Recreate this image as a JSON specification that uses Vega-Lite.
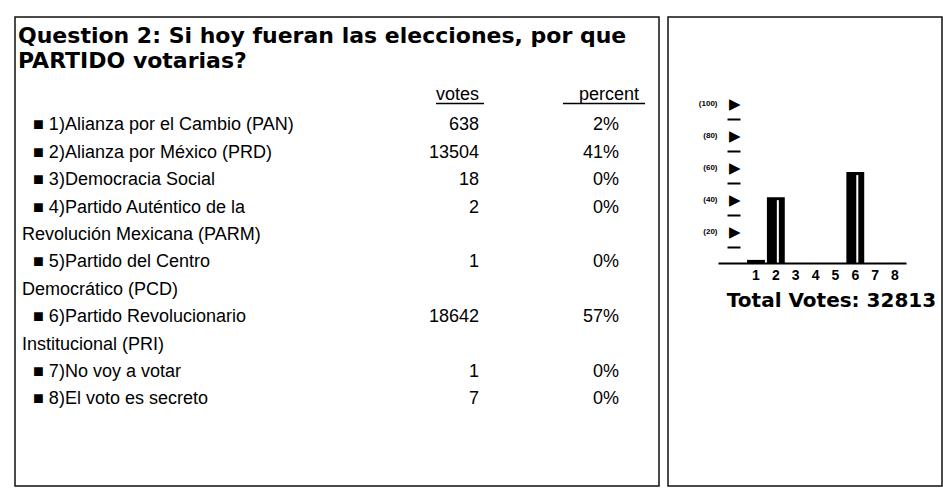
{
  "$schema": "https://vega.github.io/schema/vega-lite/v6.json",
  "background": "white",
  "padding": {"left": 14, "top": 16, "right": 4, "bottom": 7},
  "spacing": 7,
  "config": {"view": {"stroke": "#111", "strokeWidth": 1.5}, "font": "Liberation Sans"},
  "data": {"values": [
    {"item": 1, "label": "■ 1)Alianza por el Cambio (PAN)", "cont": "", "votes": 638, "share": 0.0194},
    {"item": 2, "label": "■ 2)Alianza por México (PRD)", "cont": "", "votes": 13504, "share": 0.4115},
    {"item": 3, "label": "■ 3)Democracia Social", "cont": "", "votes": 18, "share": 0.0005},
    {"item": 4, "label": "■ 4)Partido Auténtico de la", "cont": "Revolución Mexicana (PARM)", "votes": 2, "share": 0.0001},
    {"item": 5, "label": "■ 5)Partido del Centro", "cont": "Democrático (PCD)", "votes": 1, "share": 0.00003},
    {"item": 6, "label": "■ 6)Partido Revolucionario", "cont": "Institucional (PRI)", "votes": 18642, "share": 0.5681},
    {"item": 7, "label": "■ 7)No voy a votar", "cont": "", "votes": 1, "share": 0.00003},
    {"item": 8, "label": "■ 8)El voto es secreto", "cont": "", "votes": 7, "share": 0.0002}
  ]},
  "hconcat": [
    {
      "width": 644,
      "height": 469,
      "transform": [
        {"calculate": "datum.cont === '' ? 1 : 2", "as": "nl"},
        {"window": [{"op": "sum", "field": "nl", "as": "cum"}], "sort": [{"field": "item"}]},
        {"calculate": "datum.cum - datum.nl", "as": "row"},
        {"calculate": "datum.row + 1", "as": "contRow"}
      ],
      "layer": [
        {
          "mark": {"type": "text", "align": "left", "baseline": "alphabetic", "dx": 11, "fontSize": 18, "color": "black"},
          "encoding": {
            "x": {"datum": 0, "type": "quantitative", "scale": {"type": "linear", "domain": [0, 1, 2], "range": [7, 464, 604]}, "axis": null},
            "y": {"field": "row", "type": "quantitative", "scale": {"domain": [-4.139, 12.978], "reverse": true, "nice": false, "zero": false}, "axis": null},
            "text": {"field": "label"}
          }
        },
        {
          "transform": [{"filter": "datum.cont !== ''"}],
          "mark": {"type": "text", "align": "left", "baseline": "alphabetic", "fontSize": 18, "color": "black"},
          "encoding": {
            "x": {"datum": 0, "type": "quantitative"},
            "y": {"field": "contRow", "type": "quantitative"},
            "text": {"field": "cont"}
          }
        },
        {
          "mark": {"type": "text", "align": "right", "baseline": "alphabetic", "fontSize": 18, "color": "black"},
          "encoding": {
            "x": {"datum": 1, "type": "quantitative"},
            "y": {"field": "row", "type": "quantitative"},
            "text": {"field": "votes", "type": "quantitative", "format": "d"}
          }
        },
        {
          "mark": {"type": "text", "align": "right", "baseline": "alphabetic", "fontSize": 18, "color": "black"},
          "encoding": {
            "x": {"datum": 2, "type": "quantitative"},
            "y": {"field": "row", "type": "quantitative"},
            "text": {"field": "share", "type": "quantitative", "format": ".0%"}
          }
        },
        {
          "data": {"values": [{}]},
          "mark": {"type": "text", "align": "left", "baseline": "alphabetic", "dx": -4, "font": "DejaVu Sans", "fontWeight": "bold", "fontSize": 22, "lineHeight": 25.5, "color": "black"},
          "encoding": {
            "x": {"datum": 0, "type": "quantitative"},
            "y": {"datum": -3.208, "type": "quantitative"},
            "text": {"value": ["Question 2: Si hoy fueran las elecciones, por que", "PARTIDO votarias?"]}
          }
        },
        {
          "data": {"values": [{}]},
          "mark": {"type": "text", "align": "right", "baseline": "alphabetic", "fontSize": 18, "color": "black"},
          "encoding": {
            "x": {"datum": 1, "type": "quantitative"},
            "y": {"datum": -1.095, "type": "quantitative"},
            "text": {"value": "votes"}
          }
        },
        {
          "data": {"values": [{}]},
          "mark": {"type": "text", "align": "right", "baseline": "alphabetic", "dx": 20, "fontSize": 18, "color": "black"},
          "encoding": {
            "x": {"datum": 2, "type": "quantitative"},
            "y": {"datum": -1.095, "type": "quantitative"},
            "text": {"value": "percent"}
          }
        },
        {
          "data": {"values": [{}]},
          "mark": {"type": "rule", "color": "black", "strokeWidth": 1.5, "xOffset": -43, "x2Offset": 5},
          "encoding": {
            "x": {"datum": 1, "type": "quantitative"},
            "x2": {"datum": 1},
            "y": {"datum": -0.985, "type": "quantitative"}
          }
        },
        {
          "data": {"values": [{}]},
          "mark": {"type": "rule", "color": "black", "strokeWidth": 1.5, "xOffset": -56, "x2Offset": 26},
          "encoding": {
            "x": {"datum": 2, "type": "quantitative"},
            "x2": {"datum": 2},
            "y": {"datum": -0.985, "type": "quantitative"}
          }
        }
      ]
    },
    {
      "width": 274,
      "height": 469,
      "resolve": {"axis": {"y": "independent"}},
      "encoding": {
        "x": {
          "field": "item", "type": "ordinal",
          "scale": {"type": "band", "range": [50, 238], "paddingInner": 0.1, "paddingOuter": 0.783, "align": 0.934},
          "axis": {
            "orient": "bottom", "offset": -223, "ticks": false, "domain": true, "domainColor": "black", "domainWidth": 2,
            "labelAngle": 0, "labelFont": "Liberation Sans", "labelFontWeight": "bold", "labelFontSize": 14, "labelColor": "black",
            "labelPadding": 5, "title": "Total Votes: 32813", "titleFont": "DejaVu Sans", "titleFontWeight": "bold",
            "titleFontSize": 20, "titleColor": "black", "titlePadding": 8, "titleX": 163, "grid": false, "zindex": 1
          }
        }
      },
      "layer": [
        {
          "mark": {"type": "bar", "color": "black"},
          "encoding": {
            "y": {
              "field": "share", "type": "quantitative",
              "scale": {"domain": [0, 1], "range": [246, 86], "nice": false, "zero": true},
              "axis": {
                "orient": "left", "offset": -50, "values": [0.2, 0.4, 0.6, 0.8, 1],
                "labelExpr": "'(' + round(datum.value*100) + ')'", "ticks": false, "domain": false,
                "labelPadding": 1, "labelFontSize": 8, "labelFontWeight": "bold", "labelColor": "black",
                "labelFont": "Liberation Sans", "labelOverlap": false, "title": null, "grid": false, "zindex": 1
              }
            }
          }
        },
        {
          "transform": [{"filter": "datum.share > 0.05"}],
          "mark": {"type": "bar", "color": "white", "size": 2, "xOffset": 2, "yOffset": 3},
          "encoding": {
            "y": {
              "field": "share", "type": "quantitative",
              "axis": {
                "orient": "left", "offset": -72, "values": [0.1, 0.2, 0.3, 0.4, 0.5, 0.6, 0.7, 0.8, 0.9, 1],
                "labelExpr": "round(datum.value*10) % 2 == 0 ? '▶' : ''",
                "ticks": true, "tickSize": 13, "tickWidth": 2, "tickColor": "black",
                "tickOpacity": {"condition": {"test": "round(datum.value*10) % 2 == 1", "value": 1}, "value": 0},
                "labelPadding": -13, "labelFontSize": 15, "labelColor": "black", "labelFont": "DejaVu Sans",
                "labelOverlap": false, "domain": false, "title": null, "grid": false, "zindex": 1
              }
            }
          }
        }
      ]
    }
  ]
}
